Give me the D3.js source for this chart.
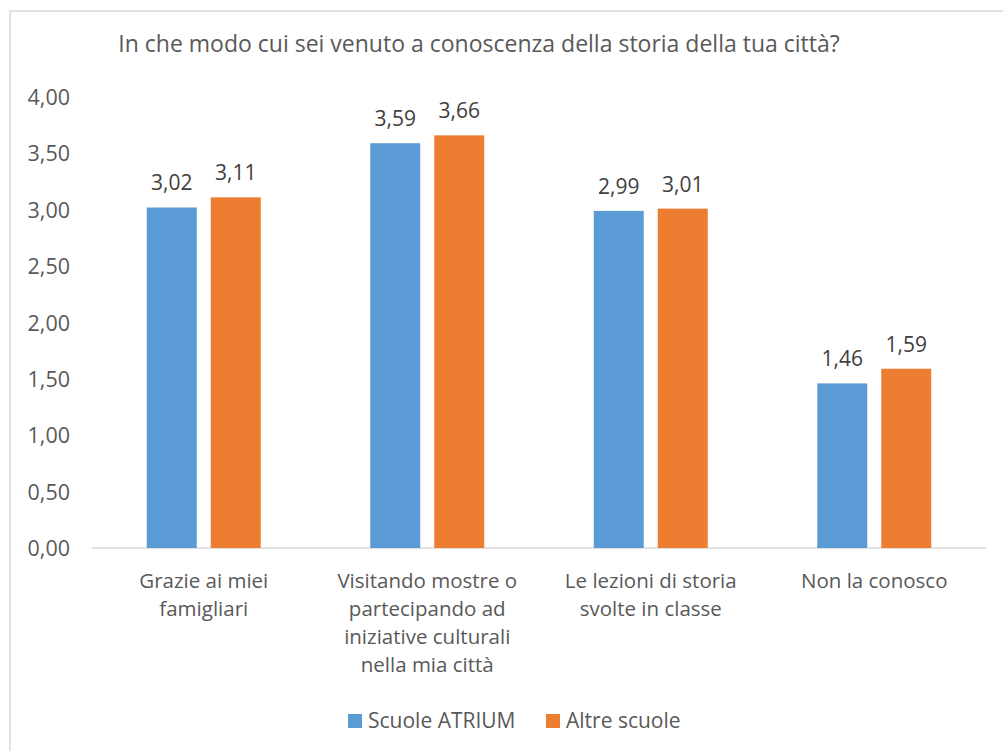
<!DOCTYPE html>
<html><head><meta charset="utf-8">
<script src="https://cdn.jsdelivr.net/npm/d3@7"></script>
<style>body{margin:0;background:#fff}svg{display:block}</style>
</head><body>
<svg id="c" width="1003" height="751"></svg>
<script>
const title = "In che modo cui sei venuto a conoscenza della storia della tua città?";
const categories = [
  ["Grazie ai miei", "famigliari"],
  ["Visitando mostre o", "partecipando ad", "iniziative culturali", "nella mia città"],
  ["Le lezioni di storia", "svolte in classe"],
  ["Non la conosco"]
];
const seriesNames = ["Scuole ATRIUM", "Altre scuole"];
const atrium = [3.02, 3.59, 2.99, 1.46];
const altre = [3.11, 3.66, 3.01, 1.59];
const yTicks = [0, 0.5, 1, 1.5, 2, 2.5, 3, 3.5, 4];
const colors = ["#5b9bd5", "#ed7d31"];

const svg = d3.select("#c");
const font = "'Open Sans', 'Segoe UI', sans-serif";
const txt = "#595959";

// chart border
svg.append("rect").attr("x", 10).attr("y", 11).attr("width", 1010).attr("height", 760)
  .attr("fill", "none").attr("stroke", "#d9d9d9").attr("stroke-width", 1.5);

svg.append("text").attr("x", 479).attr("y", 52).attr("text-anchor", "middle")
  .attr("font-family", font).attr("font-size", 23).attr("fill", txt).text(title);

const x0 = d3.scaleBand().domain(d3.range(categories.length)).range([92, 986]).paddingInner(0).paddingOuter(0);
const y = d3.scaleLinear().domain([0, 4]).range([548, 97]);
const barW = 50, gap = 14;

const fmt = v => d3.format(".2f")(v).replace(".", ",");

// y axis labels
const yAxis = d3.axisLeft(y).tickValues(yTicks).tickFormat(fmt).tickSize(0).tickPadding(0);
const ga = svg.append("g").attr("transform", "translate(70,0)").call(yAxis);
ga.select(".domain").remove();
ga.selectAll("text").attr("font-family", font).attr("font-size", 21.5).attr("fill", txt).attr("dy", "0.35em");

// baseline
svg.append("line").attr("x1", 92).attr("x2", 986).attr("y1", y(0)).attr("y2", y(0))
  .attr("stroke", "#d9d9d9").attr("stroke-width", 1.5);

const series = [atrium, altre];
series.forEach((vals, si) => {
  const g = svg.append("g");
  vals.forEach((v, i) => {
    const cx = x0(i) + x0.bandwidth() / 2;
    const bx = si === 0 ? cx - gap / 2 - barW : cx + gap / 2;
    g.append("rect").attr("x", bx).attr("y", y(v)).attr("width", barW).attr("height", y(0) - y(v))
      .attr("fill", colors[si]);
    g.append("text").attr("x", bx + barW / 2).attr("y", y(v) - 17).attr("text-anchor", "middle")
      .attr("font-family", font).attr("font-size", 21).attr("fill", "#404040").text(fmt(v));
  });
});

// category labels
categories.forEach((lines, i) => {
  const cx = x0(i) + x0.bandwidth() / 2;
  const t = svg.append("text").attr("text-anchor", "middle").attr("font-family", font)
    .attr("font-size", 20.5).attr("fill", txt);
  lines.forEach((l, j) => t.append("tspan").attr("x", cx).attr("y", 588 + j * 28).text(l));
});

// legend
const leg = [{x: 348, tx: 368}, {x: 546, tx: 566}];
seriesNames.forEach((n, i) => {
  svg.append("rect").attr("x", leg[i].x).attr("y", 714).attr("width", 14).attr("height", 14).attr("fill", colors[i]);
  svg.append("text").attr("x", leg[i].tx).attr("y", 728).attr("font-family", font).attr("font-size", 21)
    .attr("fill", txt).text(n);
});
</script>
</body></html>
